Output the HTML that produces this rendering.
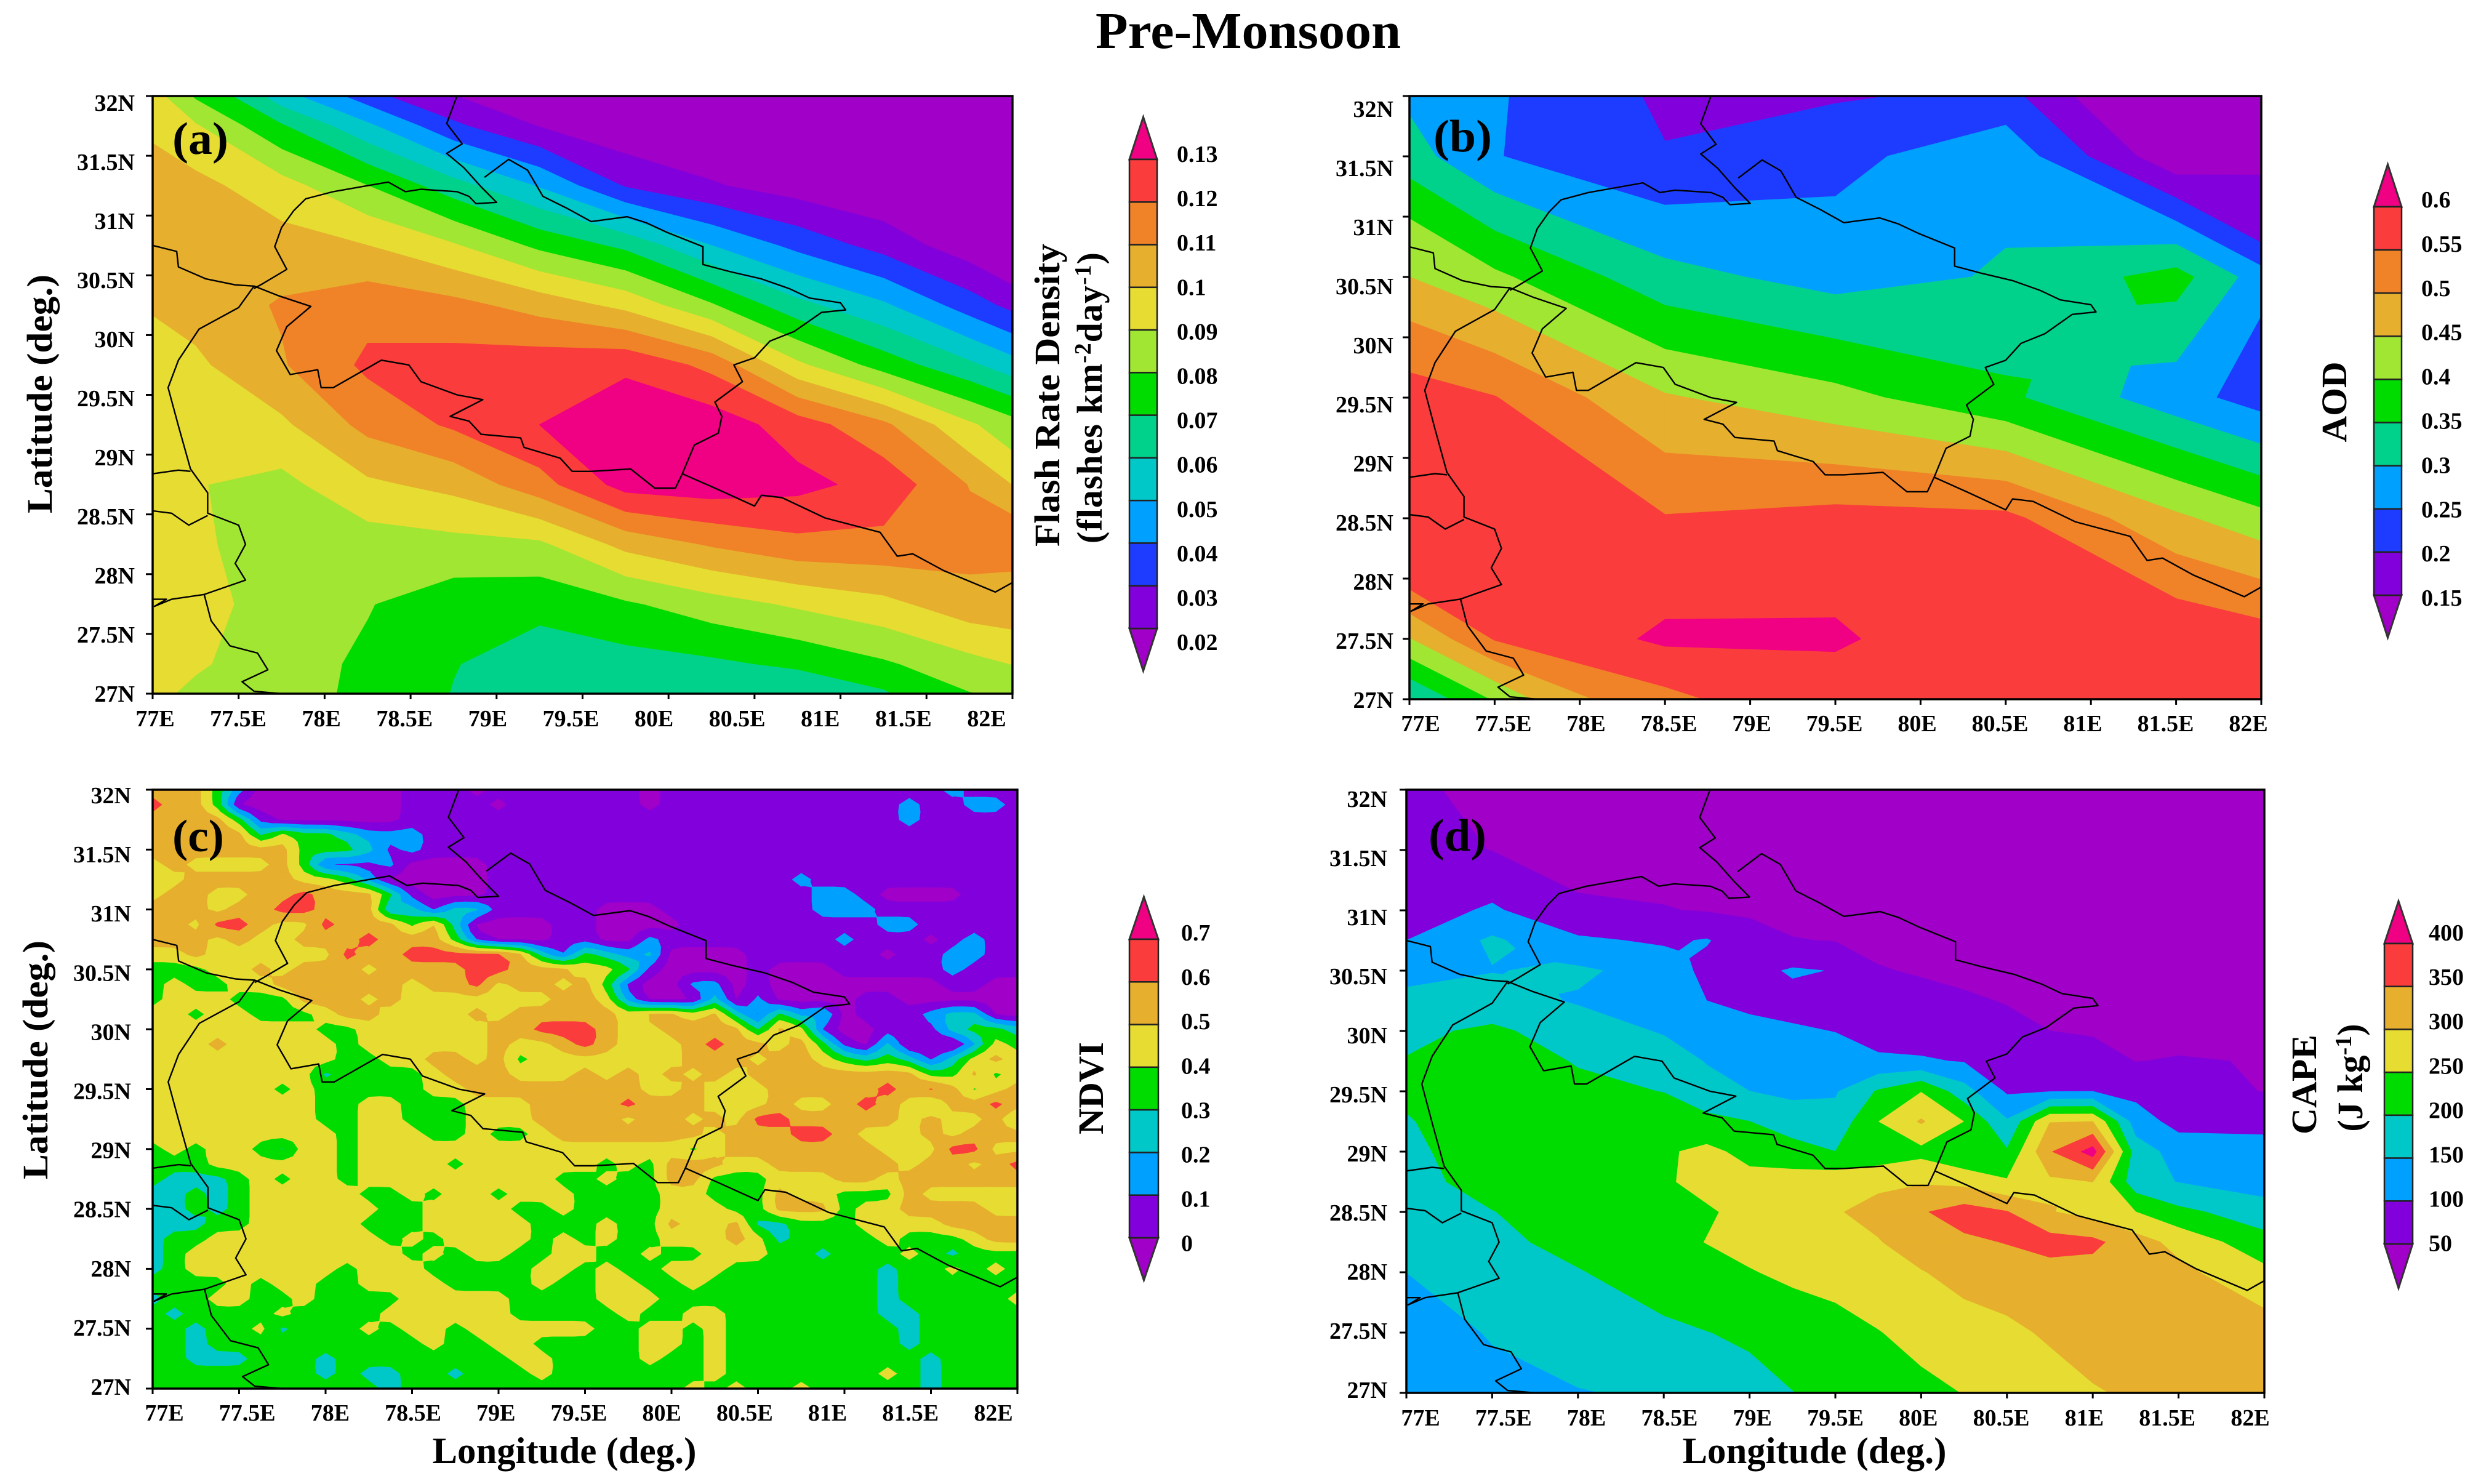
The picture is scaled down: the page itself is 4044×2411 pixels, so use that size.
<!DOCTYPE html>
<html lang="en">
<head>
<meta charset="utf-8">
<title>Pre-Monsoon</title>
<style>
html,body{margin:0;padding:0;background:#fff;}
svg{display:block;}
text{font-family:"Liberation Serif",serif;font-weight:bold;fill:#000;}
</style>
</head>
<body>
<svg id="figure" xmlns="http://www.w3.org/2000/svg" width="4044" height="2411" viewBox="0 0 4044 2411">
  <rect x="0" y="0" width="4044" height="2411" fill="#fff"/>
  <text x="2028" y="78" font-size="84" text-anchor="middle" textLength="496" lengthAdjust="spacingAndGlyphs">Pre-Monsoon</text>

  <g id="panel-a"></g>
  <g id="panel-b"></g>
  <g id="panel-c"></g>
  <g id="panel-d"></g>

  <text x="280" y="250" font-size="74" textLength="91" lengthAdjust="spacingAndGlyphs">(a)</text>
  <text x="2329" y="246" font-size="74" textLength="95" lengthAdjust="spacingAndGlyphs">(b)</text>
  <text x="280" y="1383" font-size="74" textLength="84" lengthAdjust="spacingAndGlyphs">(c)</text>
  <text x="2321" y="1382" font-size="74" textLength="94" lengthAdjust="spacingAndGlyphs">(d)</text>

  <text transform="translate(84,640) rotate(-90)" font-size="58" text-anchor="middle" textLength="388" lengthAdjust="spacingAndGlyphs">Latitude (deg.)</text>
  <text transform="translate(77,1722) rotate(-90)" font-size="58" text-anchor="middle" textLength="388" lengthAdjust="spacingAndGlyphs">Latitude (deg.)</text>
  <text x="917" y="2377" font-size="60" text-anchor="middle" textLength="429" lengthAdjust="spacingAndGlyphs">Longitude (deg.)</text>
  <text x="2948" y="2377" font-size="60" text-anchor="middle" textLength="429" lengthAdjust="spacingAndGlyphs">Longitude (deg.)</text>

  <text transform="translate(1721,642) rotate(-90)" font-size="58" text-anchor="middle" textLength="492" lengthAdjust="spacingAndGlyphs">Flash Rate Density</text>
  <text transform="translate(1790,646) rotate(-90)" font-size="58" text-anchor="middle" letter-spacing="1">(flashes km<tspan font-size="38" dy="-18">-2</tspan><tspan dy="18">day</tspan><tspan font-size="38" dy="-18">-1</tspan><tspan dy="18">)</tspan></text>
  <text transform="translate(3812,653) rotate(-90)" font-size="58" text-anchor="middle" textLength="131" lengthAdjust="spacingAndGlyphs">AOD</text>
  <text transform="translate(1792,1768) rotate(-90)" font-size="58" text-anchor="middle" textLength="150" lengthAdjust="spacingAndGlyphs">NDVI</text>
  <text transform="translate(3763,1762) rotate(-90)" font-size="58" text-anchor="middle" textLength="162" lengthAdjust="spacingAndGlyphs">CAPE</text>
  <text transform="translate(3838,1751) rotate(-90)" font-size="58" text-anchor="middle">(J kg<tspan font-size="38" dy="-18">-1</tspan><tspan dy="18">)</tspan></text>
</svg>

<script>
/* ---------- shared axis values ---------- */
const latTicks = [32, 31.5, 31, 30.5, 30, 29.5, 29, 28.5, 28, 27.5, 27];
const lonTicks = [77, 77.5, 78, 78.5, 79, 79.5, 80, 80.5, 81, 81.5, 82];

/* ---------- (a) flash rate density, flashes km-2 day-1 ---------- */
const flashLevels = [0.02, 0.03, 0.04, 0.05, 0.06, 0.07, 0.08, 0.09, 0.1, 0.11, 0.12, 0.13];
const flashLons = [76.75, 77.25, 77.75, 78.25, 78.75, 79.25, 79.75, 80.25, 80.75, 81.25, 81.75, 82.25];
const flashLats = [32.25, 31.75, 31.25, 30.75, 30.25, 29.75, 29.25, 28.75, 28.25, 27.75, 27.25, 26.75];
const flashValues = [
 [.098,.066,.037,.017,.009,.01,.01,.01,.01,.01,.01,.01],
 [.102,.091,.071,.052,.032,.0195,.012,.01,.01,.01,.01,.01],
 [.104,.103,.094,.08,.064,.049,.029,.021,.015,.011,.01,.01],
 [.105,.105,.104,.1,.091,.0775,.0675,.05,.037,.026,.014,.01],
 [.098,.104,.111,.1165,.113,.106,.097,.081,.063,.0515,.035,.019],
 [.096,.098,.109,.122,.124,.126,.128,.117,.092,.0755,.062,.046],
 [.094,.094,.098,.113,.1215,.13,.137,.136,.125,.112,.0915,.076],
 [.092,.0905,.087,.098,.103,.116,.134,.136,.133,.1265,.1095,.09],
 [.097,.092,.084,.085,.0867,.088,.103,.111,.117,.117,.114,.112],
 [.1,.092,.0875,.0805,.0746,.073,.0785,.0855,.0915,.097,.106,.107],
 [.097,.0915,.0835,.0785,.0705,.0645,.066,.068,.072,.0785,.0865,.094],
 [.094,.0835,.082,.0785,.0685,.0625,.057,.051,.05,.0585,.0725,.076]
];
const flashLegendLabels = ["0.13","0.12","0.11","0.1","0.09","0.08","0.07","0.06","0.05","0.04","0.03","0.02"];

/* ---------- (b) aerosol optical depth ---------- */
const aodLevels = [0.15, 0.2, 0.25, 0.3, 0.35, 0.4, 0.45, 0.5, 0.55, 0.6];
const aodLons = [76.5, 77.5, 78.5, 79.5, 80.5, 81.5, 82.5];
const aodLats = [32.5, 31.5, 30.5, 29.5, 28.5, 27.5, 26.5];
const aodValues = [
 [.31,.26,.172,.155,.152,.075,.12],
 [.39,.2525,.204,.235,.284,.11,.145],
 [.49,.41,.3175,.28,.305,.37,.177],
 [.59,.552,.455,.416,.36,.27,.185],
 [.59,.58,.553,.567,.562,.46,.372],
 [.34,.553,.609,.607,.56,.595,.549],
 [.26,.257,.46,.54,.59,.565,.59]
];
const aodLegendLabels = ["0.6","0.55","0.5","0.45","0.4","0.35","0.3","0.25","0.2","0.15"];

/* ---------- (c) NDVI, each number is the tenths band the grid point falls in ---------- */
const ndviLevels = [0, 0.1, 0.2, 0.3, 0.4, 0.5, 0.6, 0.7];
const ndviLegendLabels = ["0.7","0.6","0.5","0.4","0.3","0.2","0.1","0"];
const ndviBands = [
[6,6,6,4,2,0,0,0,0,0,0,0,1,1,1,0,1,1,1,1,1,1,1,0,1,1,1,1,1,1,1,1,1,1,1,1,1,2,1,1,1],
[7,6,6,4,0,0,0,0,0,0,0,0,1,1,1,1,0,1,1,1,1,1,1,0,1,1,1,1,1,1,1,1,1,1,1,2,1,1,2,2,1],
[6,6,6,6,4,1,0,0,0,0,0,0,1,1,1,1,1,1,1,1,1,1,1,1,1,1,1,1,1,1,1,1,1,1,1,2,1,1,1,1,1],
[6,6,6,6,6,3,5,4,4,3,2,2,2,1,1,1,1,1,1,1,1,1,1,1,1,1,1,1,1,1,1,1,1,1,1,1,1,1,1,1,1],
[6,6,6,6,6,6,6,4,4,4,3,1,2,1,1,1,1,1,1,1,1,1,1,1,1,1,1,1,1,1,1,1,1,1,1,1,1,1,1,1,1],
[5,6,5,5,5,5,6,4,1,1,1,2,0,0,0,0,1,1,1,1,1,1,1,1,1,1,1,1,1,1,1,1,1,1,1,1,1,1,1,1,1],
[5,5,6,6,6,6,6,5,5,4,2,0,0,0,0,0,1,1,1,1,1,1,1,1,1,1,1,1,1,1,2,1,1,1,1,1,1,1,1,1,1],
[5,6,6,5,5,6,6,7,6,6,6,4,1,0,0,0,1,1,1,1,1,1,1,1,1,1,1,1,1,1,1,2,2,1,0,0,0,0,1,1,1],
[6,6,6,5,6,6,7,7,6,6,6,2,3,1,3,3,1,1,1,1,1,0,0,0,1,1,1,1,1,1,1,2,2,2,1,1,1,1,1,1,1],
[6,6,5,7,7,6,5,5,7,6,6,6,4,6,3,0,0,0,0,1,1,0,0,0,0,1,1,1,1,1,1,1,1,1,2,2,1,1,1,1,1],
[6,6,6,5,6,5,5,6,6,6,7,6,6,6,4,1,0,0,0,1,1,0,0,2,1,1,1,1,1,1,1,1,2,1,1,1,0,1,2,1,1],
[5,5,6,5,5,5,5,5,5,7,6,6,7,7,7,7,7,6,3,1,4,3,2,3,0,0,0,0,1,1,1,1,1,1,0,1,1,2,2,1,1],
[4,4,4,5,5,6,5,6,6,6,5,6,6,6,6,7,7,6,6,6,5,5,4,1,0,0,0,0,1,0,0,0,1,1,1,1,1,2,1,1,1],
[4,5,4,4,5,5,6,6,6,6,6,6,5,6,6,7,5,6,6,5,6,4,1,0,0,2,2,0,1,0,0,0,0,0,0,0,0,1,1,0,0],
[4,5,5,5,4,4,4,6,6,6,5,6,5,5,5,5,5,5,5,6,6,5,2,0,0,0,3,0,2,0,0,0,0,1,1,0,0,0,0,0,0],
[5,5,4,5,5,4,4,4,5,6,6,5,5,5,5,6,5,6,6,6,6,6,5,6,6,5,6,3,1,4,2,3,0,1,1,1,2,3,3,0,0],
[5,5,5,5,5,5,5,5,4,4,5,5,5,5,5,5,6,6,7,7,7,6,5,5,6,6,6,6,3,6,5,1,0,0,1,1,1,3,4,4,3],
[5,5,5,6,5,5,5,5,5,4,5,5,5,5,5,5,6,5,5,6,7,6,5,5,5,6,7,6,6,5,6,4,1,0,3,0,1,0,2,5,4],
[5,5,5,5,5,5,5,5,5,4,4,5,5,6,6,5,6,4,5,5,5,5,5,5,5,6,6,6,5,6,6,5,4,3,4,3,1,3,5,6,5],
[5,5,5,5,5,5,5,5,3,4,4,4,4,5,6,6,6,5,5,5,6,5,6,5,6,5,6,5,6,6,6,6,6,6,6,6,4,4,6,4,5],
[5,5,5,5,5,5,4,5,4,4,4,4,4,5,5,6,6,6,6,6,6,6,6,5,5,6,5,5,5,6,6,6,6,6,7,6,7,6,4,5,6],
[5,5,5,5,5,5,5,5,4,4,5,5,4,4,4,5,5,5,6,6,6,6,7,6,6,6,5,5,5,6,5,5,6,7,6,5,4,6,6,7,6],
[5,5,5,5,5,5,5,5,4,4,5,5,4,4,4,5,5,5,6,6,6,6,5,6,6,5,6,5,7,7,6,6,6,6,6,5,6,5,5,6,4],
[5,5,5,5,5,5,5,5,5,4,5,5,5,4,4,5,4,4,5,6,6,6,6,6,6,6,5,6,6,6,7,7,6,5,5,5,6,5,6,6,6],
[4,5,4,5,5,4,3,5,5,4,5,5,5,5,5,5,5,5,5,5,5,5,5,5,5,4,5,6,6,6,6,6,6,6,5,5,5,7,7,5,5],
[4,4,4,5,5,5,5,5,5,4,5,5,5,5,4,5,5,5,5,5,5,4,5,4,6,6,6,5,5,6,6,6,6,6,6,5,6,6,5,6,7],
[4,3,3,3,4,5,4,5,5,4,5,5,5,5,5,5,5,5,5,4,4,5,4,4,6,6,4,4,4,5,5,5,6,6,5,6,6,6,6,6,6],
[3,3,4,3,4,5,5,5,5,5,4,4,5,4,5,5,4,5,5,5,4,4,4,4,5,5,4,4,4,6,5,5,4,4,4,6,5,5,5,5,5],
[3,3,4,3,4,5,5,5,5,5,5,4,4,5,5,5,5,4,4,5,4,4,4,4,5,5,5,4,4,6,6,6,4,5,5,6,6,6,6,5,5],
[3,3,3,4,4,5,5,5,5,5,4,4,4,5,5,5,5,5,4,4,4,5,4,4,6,5,5,6,3,3,4,4,4,5,5,5,5,6,6,6,6],
[3,4,4,5,5,5,5,5,5,5,5,4,5,4,5,5,5,5,4,5,4,5,4,4,5,5,5,6,5,3,4,4,4,4,5,4,4,4,5,6,6],
[3,4,5,5,5,5,5,5,5,5,5,5,4,5,4,5,5,4,4,5,5,4,4,5,4,4,5,5,5,4,4,3,4,4,4,5,4,3,4,4,4],
[3,4,5,5,5,5,5,5,5,4,5,5,5,4,4,4,4,4,5,5,4,5,4,4,5,5,5,4,4,4,4,4,4,4,3,4,4,5,4,5,4],
[4,4,4,4,5,4,5,5,4,4,5,5,5,5,4,4,4,4,5,4,4,5,5,4,4,5,4,4,4,4,4,4,4,4,3,4,4,4,4,4,4],
[3,4,4,5,5,4,4,5,4,4,4,4,5,5,5,5,5,4,4,4,4,5,5,5,4,4,4,4,4,4,4,4,4,4,3,4,4,4,4,4,5],
[4,3,4,4,4,4,5,4,4,4,4,5,5,5,5,5,5,4,4,4,4,4,5,4,4,5,5,4,4,4,4,4,4,4,3,3,4,4,4,4,4],
[4,4,3,4,4,5,3,4,4,4,5,4,5,5,4,5,5,5,5,5,5,4,4,5,5,4,5,4,4,4,4,4,4,4,4,3,4,4,4,4,4],
[4,4,3,4,4,4,4,4,4,4,4,4,4,5,4,4,5,5,4,4,4,4,4,5,5,4,5,4,4,4,4,4,4,4,4,3,4,4,4,4,4],
[4,4,3,3,3,4,4,4,3,4,4,4,4,4,4,4,4,5,5,4,4,4,4,5,4,4,5,4,4,4,4,4,4,4,4,4,3,4,4,4,4],
[4,4,4,4,4,4,4,4,3,4,3,3,4,4,3,4,4,4,5,4,4,4,4,4,4,4,5,4,4,4,4,4,4,4,5,4,3,4,4,4,4],
[4,4,4,4,4,4,4,4,4,4,4,3,4,4,4,4,4,4,4,4,4,4,4,4,4,5,4,5,4,4,5,4,4,4,4,4,3,4,4,4,4]
];

/* ---------- (d) CAPE, J kg-1 ---------- */
const capeLevels = [50, 100, 150, 200, 250, 300, 350, 400];
const capeLons = [77, 77.5, 78, 78.5, 78.75, 79, 79.25, 79.5, 79.75, 80, 80.25, 80.5, 80.75, 81, 81.25, 81.5, 82];
const capeLats = [32, 31.5, 31, 30.75, 30.5, 30.25, 30, 29.75, 29.5, 29.25, 29, 28.75, 28.5, 28.25, 28, 27.5, 27];
const capeValues = [
 [62,33,30,30,30,30,30,30,30,30,30,30,30,30,30,30,30],
 [66,49,30,30,30,30,30,30,30,30,30,30,30,30,30,30,30],
 [75,107,58,52,47,42,36,32,30,30,30,30,30,30,30,30,30],
 [100,158,108,93,103,72,52,48,42,36,30,30,30,30,30,30,30],
 [135,148,158,130,86,85,105,98,52,47,41,35,32,30,30,30,30],
 [162,172,145,125,100,90,85,78,65,60,55,48,42,38,34,32,30],
 [190,208,178,145,120,112,105,99,80,76,70,60,50,45,40,36,34],
 [202,222,197,178,147,130,122,118,108,105,97,82,75,70,49,53,48],
 [212,235,210,199,170,150,137,145,205,248,170,93,97,99,85,73,48],
 [195,240,230,220,212,200,180,167,249,305,249,155,298,299,125,82,92],
 [185,235,235,243,262,235,215,200,215,235,200,205,345,420,175,130,110],
 [178,225,240,245,262,265,275,280,290,295,285,255,290,300,170,148,125],
 [172,198,235,245,245,262,280,296,315,345,372,352,303,280,250,212,173],
 [165,188,215,235,251,265,275,285,297,325,340,352,370,362,320,285,217],
 [150,175,197,225,232,247,260,268,282,297,318,325,330,330,325,312,262],
 [115,155,180,190,199,207,220,232,248,265,277,290,306,325,328,328,325],
 [105,130,147,158,168,185,199,212,225,238,251,265,280,295,308,315,320]
];
const capeLegendLabels = ["400","350","300","250","200","150","100","50"];

/* ---------- boundary lines, [lon, lat] ---------- */
const borderNorth = [[78.77,32],[78.71,31.77],[78.8,31.6],[78.71,31.52],[78.81,31.4],[78.91,31.24],[79,31.11],[78.88,31.1],[78.84,31.16],[78.77,31.2],[78.56,31.22],[78.47,31.2],[78.37,31.28],[78.21,31.24],[78.05,31.2],[77.89,31.14],[77.82,31.04],[77.75,30.9],[77.71,30.74],[77.78,30.55],[77.64,30.43],[77.59,30.39]];
const borderMain = [[78.93,31.32],[79.07,31.47],[79.18,31.38],[79.27,31.16],[79.41,31.06],[79.55,30.95],[79.76,30.99],[79.87,30.94],[79.99,30.86],[80.2,30.74],[80.2,30.59],[80.36,30.53],[80.54,30.47],[80.7,30.39],[80.82,30.31],[81,30.27],[81.03,30.21],[80.89,30.19],[80.73,30.03],[80.59,29.95],[80.5,29.81],[80.38,29.75],[80.43,29.61],[80.27,29.44],[80.31,29.32],[80.29,29.18],[80.15,29.08],[80.08,28.84],[80.04,28.72],[79.92,28.72],[79.78,28.88],[79.55,28.86],[79.44,28.86],[79.37,28.97],[79.16,29.06],[79.14,29.14],[78.91,29.17],[78.84,29.28],[78.73,29.32],[78.92,29.46],[78.77,29.5],[78.56,29.61],[78.49,29.75],[78.33,29.79],[78.05,29.56],[77.98,29.56],[77.96,29.71],[77.8,29.67],[77.72,29.87],[77.78,30.07],[77.92,30.24],[77.73,30.33],[77.59,30.41],[77.5,30.23],[77.27,30.05],[77.15,29.79],[77.09,29.56],[77.15,29.24],[77.22,28.88],[77.32,28.68],[77.32,28.51],[77.5,28.41],[77.54,28.25],[77.48,28.09],[77.54,27.95],[77.3,27.83],[77.34,27.61],[77.45,27.4],[77.61,27.34],[77.67,27.2],[77.52,27.1],[77.59,27.02],[77.75,27]];
const borderWestA = [[77,30.75],[77.14,30.7],[77.15,30.57],[77.31,30.47],[77.48,30.42],[77.59,30.41]];
const borderWestB = [[77,28.84],[77.15,28.87],[77.22,28.86]];
const borderWestC = [[77,28.53],[77.11,28.51],[77.21,28.41],[77.32,28.49]];
const borderWestD = [[77,27.79],[77.08,27.79],[77.01,27.73],[77.11,27.79],[77.3,27.83]];
const borderSouth = [[80.08,28.84],[80.27,28.72],[80.5,28.57],[80.54,28.66],[80.66,28.64],[80.91,28.47],[81.23,28.35],[81.33,28.15],[81.42,28.17],[81.6,28.03],[81.9,27.85],[82,27.93]];
const borderLines = [borderNorth, borderMain, borderWestA, borderWestB, borderWestC, borderWestD, borderSouth];

/* ---------- palette ---------- */
const MAGENTA="#a000c8",PURPLE="#8200dc",BLUE="#1e3cff",SKY="#00a0ff",TEAL="#00c8c8",MINT="#00d28c",GREEN="#00dc00",LIME="#a0e632",YELLOW="#e6dc32",AMBER="#e6af2d",ORANGE="#f08228",RED="#fa3c3c",PINK="#f00082";
const flashColors = [MAGENTA,PURPLE,BLUE,SKY,TEAL,MINT,GREEN,LIME,YELLOW,AMBER,ORANGE,RED,PINK];
const aodColors = [MAGENTA,PURPLE,BLUE,SKY,MINT,GREEN,LIME,AMBER,ORANGE,RED,PINK];
const sparseColors = [MAGENTA,PURPLE,SKY,TEAL,GREEN,YELLOW,AMBER,RED,PINK];

const SVGNS = "http://www.w3.org/2000/svg";
function make(tag, attrs, parent){
  const el = document.createElementNS(SVGNS, tag);
  for (const k in attrs) el.setAttribute(k, attrs[k]);
  parent.appendChild(el);
  return el;
}
function clipPoly(poly, level, keepAbove){
  const out = [];
  for (let i = 0; i < poly.length; i++){
    const a = poly[i], b = poly[(i + 1) % poly.length];
    const ina = keepAbove ? a.v >= level : a.v <= level;
    const inb = keepAbove ? b.v >= level : b.v <= level;
    if (ina) out.push(a);
    if (ina !== inb){
      const t = (level - a.v) / (b.v - a.v);
      out.push({lon: a.lon + t * (b.lon - a.lon), lat: a.lat + t * (b.lat - a.lat), v: level});
    }
  }
  return out;
}
function cellPolys(q, levels){
  const saddle = levels.some(L => {
    const a = q[0].v >= L, b = q[1].v >= L, c = q[2].v >= L, d = q[3].v >= L;
    return a === c && b === d && a !== b;
  });
  if (!saddle) return [q];
  const centre = {
    lon: (q[0].lon + q[1].lon + q[2].lon + q[3].lon) / 4,
    lat: (q[0].lat + q[1].lat + q[2].lat + q[3].lat) / 4,
    v: (q[0].v + q[1].v + q[2].v + q[3].v) / 4
  };
  return [[q[0], q[1], centre], [q[1], q[2], centre], [q[2], q[3], centre], [q[3], q[0], centre]];
}
function buildPanel(cfg){
  const root = document.getElementById(cfg.id);
  const box = cfg.box;
  const xScale = lon => box.left + (lon - 77) / 5 * (box.right - box.left);
  const yScale = lat => box.bottom - (lat - 27) / 5 * (box.bottom - box.top);

  const clip = make("clipPath", {id: cfg.id + "-clip"}, root);
  make("rect", {x: box.left, y: box.top, width: box.right - box.left, height: box.bottom - box.top}, clip);

  const field = make("g", {"clip-path": "url(#" + cfg.id + "-clip)"}, root);
  
  

  const levels = cfg.levels;
  const polys = [];
  for (let r = 0; r < cfg.lats.length - 1; r++){
    for (let c = 0; c < cfg.lons.length - 1; c++){
      const q = [
        {lon: cfg.lons[c], lat: cfg.lats[r], v: cfg.values[r][c]},
        {lon: cfg.lons[c + 1], lat: cfg.lats[r], v: cfg.values[r][c + 1]},
        {lon: cfg.lons[c + 1], lat: cfg.lats[r + 1], v: cfg.values[r + 1][c + 1]},
        {lon: cfg.lons[c], lat: cfg.lats[r + 1], v: cfg.values[r + 1][c]}
      ];
      cellPolys(q, levels).forEach(p => polys.push(p));
    }
  }
  for (let b = 0; b <= levels.length; b++){
    const lo = b === 0 ? -Infinity : levels[b - 1];
    const hi = b === levels.length ? Infinity : levels[b];
    const parts = [];
    polys.forEach(source => {
      let poly = source;
      if (lo !== -Infinity) poly = clipPoly(poly, lo, true);
      if (poly.length && hi !== Infinity) poly = clipPoly(poly, hi, false);
      if (poly.length < 3) return;
      parts.push("M" + poly.map(p => xScale(p.lon).toFixed(1) + " " + yScale(p.lat).toFixed(1)).join("L") + "Z");
    });
    if (!parts.length) continue;
    const band = make("path", {d: parts.join(""), fill: cfg.colors[b], stroke: cfg.colors[b], "stroke-width": 1.2, "stroke-linejoin": "round"}, field);
    
    
  }

  const borders = make("g", {fill: "none", stroke: "#000", "stroke-width": 2.4, "stroke-linejoin": "round"}, field);
  
  
  borderLines.forEach(line => {
    make("polyline", {points: line.map(p => xScale(p[0]).toFixed(1) + "," + yScale(p[1]).toFixed(1)).join(" ")}, borders);
  });

  const frame = make("rect", {x: box.left, y: box.top, width: box.right - box.left, height: box.bottom - box.top, fill: "none", stroke: "#000", "stroke-width": 3.5}, root);
  
  

  const latLabelY = lat => cfg.latLabel.bottom - (lat - 27) / 5 * (cfg.latLabel.bottom - cfg.latLabel.top);
  latTicks.forEach(lat => {
    const tick = make("line", {x1: box.left - 11, x2: box.left, y1: yScale(lat), y2: yScale(lat), stroke: "#000", "stroke-width": 3}, root);
    
    
    const t = make("text", {x: cfg.latLabel.x, y: latLabelY(lat), "font-size": 38, "text-anchor": "end", "dominant-baseline": "central"}, root);
    t.textContent = lat + "N";
    
    
  });
  const lonLabelX = lon => cfg.lonLabel.left + (lon - 77) / 5 * (cfg.lonLabel.right - cfg.lonLabel.left);
  lonTicks.forEach(lon => {
    const tick = make("line", {x1: xScale(lon), x2: xScale(lon), y1: box.bottom, y2: box.bottom + 9, stroke: "#000", "stroke-width": 3}, root);
    
    
    const t = make("text", {x: lonLabelX(lon), y: cfg.lonLabel.y, "font-size": 38, "text-anchor": "middle", "dominant-baseline": "central"}, root);
    t.textContent = lon + "E";
    
    
  });

  const bar = make("g", {}, root);
  
  
  const cb = cfg.bar;
  const count = levels.length;
  const cellH = (cb.bottom - cb.top) / (count - 1);
  const mid = (cb.left + cb.right) / 2;
  make("polygon", {points: `${cb.left},${cb.top} ${cb.right},${cb.top} ${mid},${cb.tipTop}`, fill: cfg.colors[count], stroke: "#333", "stroke-width": 3}, bar);
  make("polygon", {points: `${cb.left},${cb.bottom} ${cb.right},${cb.bottom} ${mid},${cb.tipBottom}`, fill: cfg.colors[0], stroke: "#333", "stroke-width": 3}, bar);
  for (let i = 0; i < count - 1; i++){
    const cell = make("rect", {x: cb.left, y: cb.top + i * cellH, width: cb.right - cb.left, height: cellH, fill: cfg.colors[count - 1 - i], stroke: "#222", "stroke-width": 2.5}, bar);
    
    
  }
  cfg.legendLabels.forEach((label, i) => {
    const t = make("text", {x: cb.labelX, y: cb.labelTop + i * cb.labelStep, "font-size": 38, "dominant-baseline": "central"}, bar);
    t.textContent = label;
    
    
  });
}

/* doubles a grid's resolution and softens it a little so contours come out rounded */
function refineGrid(values){
  const rows = values.length, cols = values[0].length;
  const fine = [];
  for (let r = 0; r < 2 * rows - 1; r++){
    const row = [];
    for (let c = 0; c < 2 * cols - 1; c++){
      const r0 = Math.floor(r / 2), r1 = Math.ceil(r / 2), c0 = Math.floor(c / 2), c1 = Math.ceil(c / 2);
      row.push((values[r0][c0] + values[r0][c1] + values[r1][c0] + values[r1][c1]) / 4);
    }
    fine.push(row);
  }
  const kernel = [1 / 8, 6 / 8, 1 / 8];
  return fine.map((row, r) => row.map((_, c) => {
    let sum = 0;
    for (let dr = -1; dr <= 1; dr++){
      for (let dc = -1; dc <= 1; dc++){
        const rr = Math.min(fine.length - 1, Math.max(0, r + dr));
        const cc = Math.min(row.length - 1, Math.max(0, c + dc));
        sum += kernel[dr + 1] * kernel[dc + 1] * fine[rr][cc];
      }
    }
    return sum;
  }));
}

const ndviFine = refineGrid(ndviBands.map(row => row.map(d => (d - 0.5) / 10)));
const ndviLons = ndviFine[0].map((_, i) => 77 + i * 0.0625);
const ndviLats = ndviFine.map((_, j) => 32 - j * 0.0625);

buildPanel({id: "panel-a", box: {left: 248, right: 1645, top: 156, bottom: 1127},
  lons: flashLons, lats: flashLats, values: flashValues, levels: flashLevels, colors: flashColors, legendLabels: flashLegendLabels,
  latLabel: {x: 219, top: 168, bottom: 1128}, lonLabel: {left: 252, right: 1603, y: 1168},
  bar: {left: 1835, right: 1880, top: 259, bottom: 1021, tipTop: 190, tipBottom: 1090, labelX: 1912, labelTop: 251, labelStep: 72.1}});
buildPanel({id: "panel-b", box: {left: 2290, right: 3674, top: 156, bottom: 1136},
  lons: aodLons, lats: aodLats, values: aodValues, levels: aodLevels, colors: aodColors, legendLabels: aodLegendLabels,
  latLabel: {x: 2264, top: 178, bottom: 1138}, lonLabel: {left: 2308, right: 3653, y: 1176},
  bar: {left: 3857, right: 3902, top: 336, bottom: 967, tipTop: 267, tipBottom: 1036, labelX: 3934, labelTop: 325, labelStep: 71.9}});
buildPanel({id: "panel-c", box: {left: 248, right: 1653, top: 1283, bottom: 2256},
  lons: ndviLons, lats: ndviLats, values: ndviFine, levels: ndviLevels, colors: sparseColors, legendLabels: ndviLegendLabels,
  latLabel: {x: 213, top: 1293, bottom: 2254}, lonLabel: {left: 267, right: 1614, y: 2296},
  bar: {left: 1835, right: 1882, top: 1526, bottom: 2011, tipTop: 1457, tipBottom: 2080, labelX: 1919, labelTop: 1516, labelStep: 72.1}});
buildPanel({id: "panel-d", box: {left: 2285, right: 3679, top: 1283, bottom: 2263},
  lons: capeLons, lats: capeLats, values: capeValues, levels: capeLevels, colors: sparseColors, legendLabels: capeLegendLabels,
  latLabel: {x: 2254, top: 1299, bottom: 2259}, lonLabel: {left: 2308, right: 3656, y: 2304},
  bar: {left: 3874, right: 3920, top: 1533, bottom: 2021, tipTop: 1464, tipBottom: 2093, labelX: 3946, labelTop: 1516, labelStep: 72.1}});
</script>
</body>
</html>
